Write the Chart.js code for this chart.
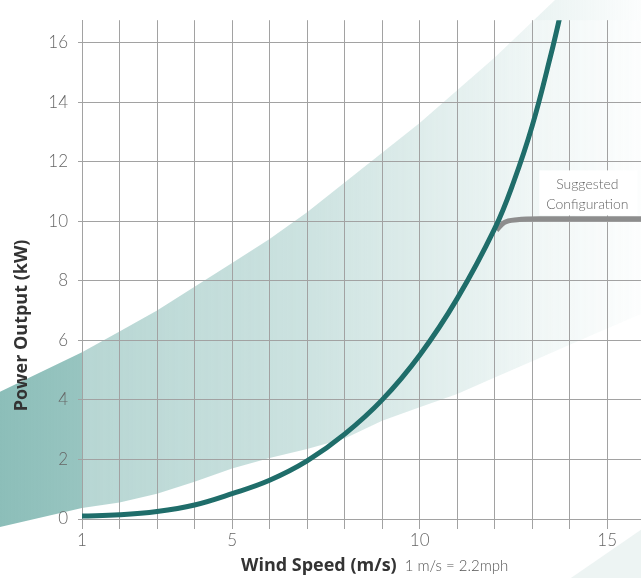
<!DOCTYPE html>
<html>
<head>
<meta charset="utf-8">
<script src="https://cdn.jsdelivr.net/npm/chart.js@4.4.1/dist/chart.umd.min.js"></script>
<style>
  html, body { margin: 0; padding: 0; background: #fff; }
  #wrap { width: 641px; height: 578px; }
</style>
</head>
<body>
<div id="wrap"><canvas id="chart"></canvas></div>
<script>
// power curve (m/s -> kW)
const windSpeed = [1, 2, 3, 4, 5, 6, 7, 8, 9, 10, 11, 12, 12.5, 13, 13.5, 13.8];
const powerKw   = [0.1, 0.14, 0.25, 0.47, 0.85, 1.3, 1.95, 2.85, 4.0, 5.5, 7.4, 9.75, 11.3, 13.2, 15.6, 17.2];

// suggested configuration (grey, flattens at ~10 kW)
const configSpeed = [12.05, 12.25, 12.6, 13.2, 16];
const configKw    = [9.7, 9.95, 10.05, 10.08, 10.08];

// shaded band behind the curve
const bandSpeed = [-1.3, 1, 2, 3, 4, 5, 6, 7, 8, 9, 10, 11, 12, 13, 14, 15, 16.5];
const bandUpper = [4.2, 5.6, 6.3, 7.0, 7.8, 8.6, 9.4, 10.3, 11.3, 12.3, 13.3, 14.4, 15.5, 16.7, 17.9, 19.1, 21];
const bandLower = [-0.3, 0.37, 0.55, 0.85, 1.25, 1.7, 2.05, 2.35, 2.7, 3.3, 3.75, 4.2, 4.75, 5.3, 5.85, 6.4, 7.2];

// faint second stripe in the bottom right corner
const stripeSpeed = [13.4, 16.5];
const stripeUpper = [-2.53, 0.16];
const stripeLower = [-4, -4];

const xTickLabels = [1, 5, 10, 15];
const noteLines = ['Suggested', 'Configuration'];

const FONT = 'Lato';
const TITLE_FONT = 'Open Sans';

function polygon(ctx, x, y, xs, top, bottom) {
    ctx.beginPath();
    xs.forEach((s, i) => {
        const px = x.getPixelForValue(s), py = y.getPixelForValue(top[i]);
        if (i) ctx.lineTo(px, py); else ctx.moveTo(px, py);
    });
    for (let i = xs.length - 1; i >= 0; i--) {
        ctx.lineTo(x.getPixelForValue(xs[i]), y.getPixelForValue(bottom[i]));
    }
    ctx.closePath();
}

const bandPlugin = {
    id: 'band',
    beforeDraw(chart) {
        const { ctx, chartArea: a, scales: { x, y } } = chart;
        ctx.save();
        const g = ctx.createLinearGradient(0, 0, chart.width, 0);
        g.addColorStop(0, 'rgba(140,190,185,1)');
        g.addColorStop(0.47, 'rgba(140,190,185,0.64)');
        g.addColorStop(0.84, 'rgba(140,190,185,0.18)');
        g.addColorStop(1, 'rgba(140,190,185,0.03)');
        ctx.fillStyle = g;
        polygon(ctx, x, y, bandSpeed, bandUpper, bandLower);
        ctx.fill();

        ctx.fillStyle = 'rgba(220,234,232,0.5)';
        polygon(ctx, x, y, stripeSpeed, stripeUpper, stripeLower);
        ctx.fill();

        // plot area is a bit paler than the margin
        ctx.fillStyle = 'rgba(255,255,255,0.3)';
        ctx.fillRect(a.left, a.top, a.right - a.left, a.bottom - a.top);
        ctx.restore();
    }
};

const textPlugin = {
    id: 'texts',
    afterDraw(chart) {
        const { ctx, chartArea: a, scales: { x, y } } = chart;
        ctx.save();

        // y title
        ctx.fillStyle = '#333';
        ctx.font = `bold 18px ${TITLE_FONT}`;
        ctx.textAlign = 'center';
        ctx.textBaseline = 'middle';
        ctx.translate(a.left - 60, y.getPixelForValue(6.5));
        ctx.rotate(-Math.PI / 2);
        ctx.fillText('Power Output (kW)', 0, 0);
        ctx.restore();
        ctx.save();

        // x title: bold part + plain note
        const boldText = 'Wind Speed (m/s)';
        const noteText = '1 m/s = 2.2mph';
        ctx.textBaseline = 'middle';
        ctx.font = `bold 18px ${TITLE_FONT}`;
        const w1 = ctx.measureText(boldText).width;
        ctx.font = `300 15px ${FONT}`;
        const w2 = ctx.measureText(noteText).width;
        const gap = 8;
        const sx = x.getPixelForValue(8.8) - (w1 + gap + w2) / 2;
        const ty = a.bottom + 47;
        ctx.textAlign = 'left';
        ctx.fillStyle = '#333';
        ctx.font = `bold 18px ${TITLE_FONT}`;
        ctx.fillText(boldText, sx, ty);
        ctx.fillStyle = '#555';
        ctx.font = `300 15px ${FONT}`;
        ctx.fillText(noteText, sx + w1 + gap, ty);

        // note box
        const cx = x.getPixelForValue(14.47);
        const cy = y.getPixelForValue(10.9);
        ctx.fillStyle = '#fff';
        ctx.fillRect(cx - 48, cy - 24, 98, 45);
        ctx.fillStyle = '#666';
        ctx.font = `300 14px ${FONT}`;
        ctx.textAlign = 'center';
        ctx.fillText(noteLines[0], cx, cy - 10);
        ctx.fillText(noteLines[1], cx, cy + 10);
        ctx.restore();
    }
};

const gridColor = '#a2a2a2';
const tickFont = { family: FONT, size: 17, weight: '300' };

new Chart(document.getElementById('chart'), {
    type: 'line',
    data: {
        datasets: [
            {
                data: windSpeed.map((s, i) => ({ x: s, y: powerKw[i] })),
                borderColor: '#1f6d6a',
                borderWidth: 5,
                pointRadius: 0,
                tension: 0.4,
                borderCapStyle: 'round',
                fill: false
            },
            {
                data: configSpeed.map((s, i) => ({ x: s, y: configKw[i] })),
                borderColor: '#8d8d8d',
                borderWidth: 5,
                pointRadius: 0,
                cubicInterpolationMode: 'monotone',
                fill: false
            }
        ]
    },
    options: {
        responsive: true,
        maintainAspectRatio: false,
        animation: false,
        layout: { padding: { top: 8, left: 0, right: 0, bottom: 0 } },
        plugins: { legend: { display: false }, tooltip: { enabled: false } },
        scales: {
            x: {
                type: 'linear',
                min: 1,
                max: 15.9,
                ticks: {
                    stepSize: 1,
                    includeBounds: false,
                    autoSkip: false,
                    maxRotation: 0,
                    padding: 1,
                    color: '#666',
                    font: tickFont,
                    callback: v => xTickLabels.includes(v) ? String(v) : ''
                },
                grid: { color: gridColor, tickLength: 10 },
                border: { color: gridColor },
                afterFit(s) { s.height = 59; }
            },
            y: {
                min: 0,
                max: 16.75,
                ticks: {
                    stepSize: 2,
                    includeBounds: false,
                    padding: 10,
                    color: '#666',
                    font: tickFont
                },
                grid: { color: gridColor, tickLength: 4 },
                border: { color: gridColor },
                afterFit(s) { s.width = 82; }
            }
        }
    },
    plugins: [bandPlugin, textPlugin]
});
</script>
</body>
</html>
